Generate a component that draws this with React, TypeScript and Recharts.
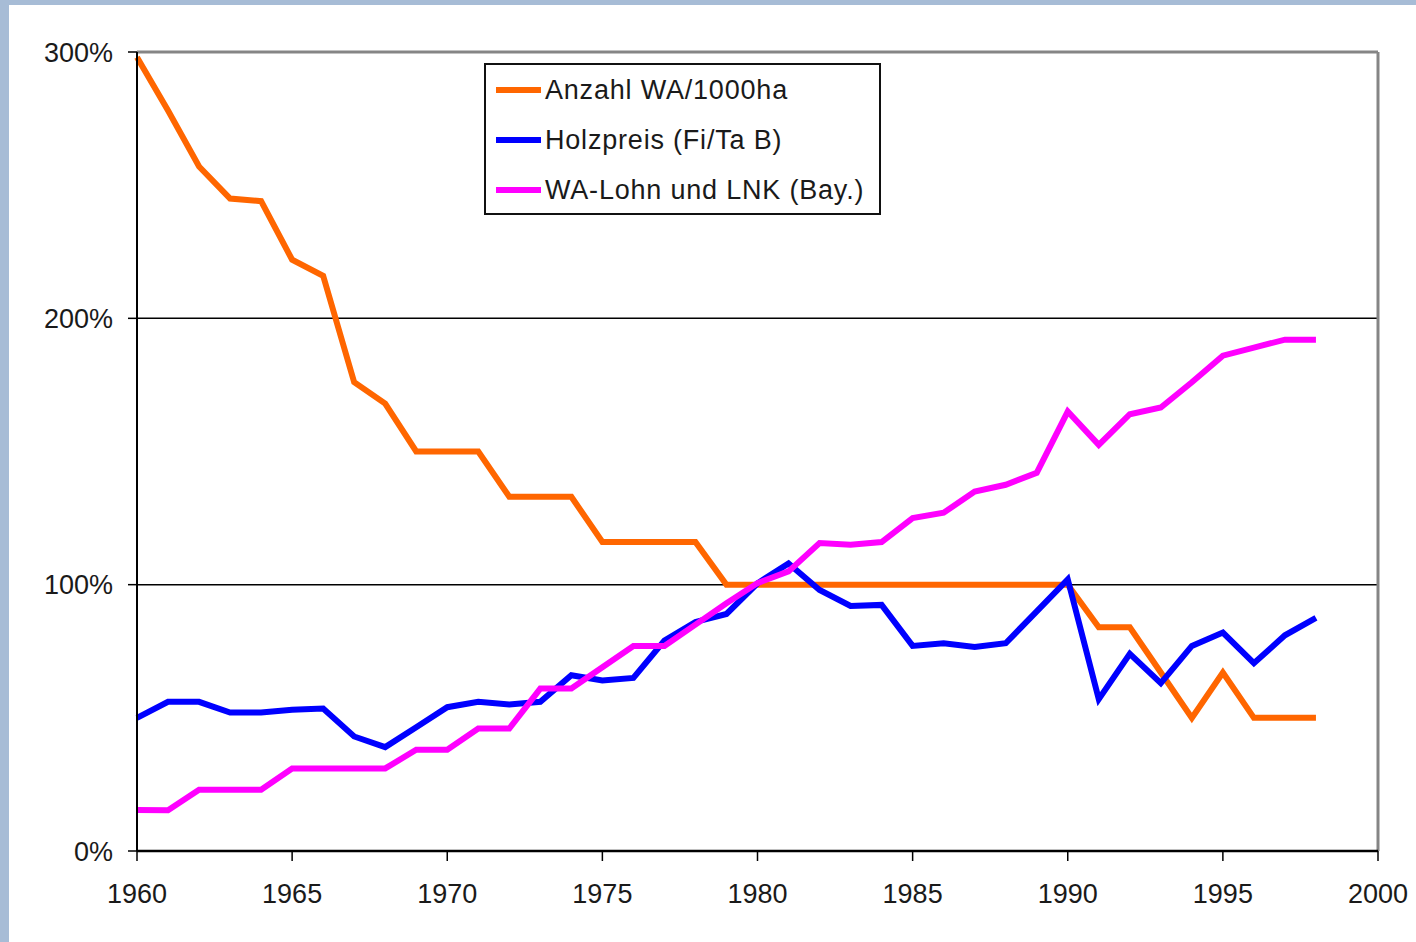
import {
  CartesianGrid,
  Legend,
  Line,
  LineChart,
  ReferenceLine,
  XAxis,
  YAxis,
} from 'recharts';

const YEARS = [
  1960, 1961, 1962, 1963, 1964, 1965, 1966, 1967, 1968, 1969,
  1970, 1971, 1972, 1973, 1974, 1975, 1976, 1977, 1978, 1979,
  1980, 1981, 1982, 1983, 1984, 1985, 1986, 1987, 1988, 1989,
  1990, 1991, 1992, 1993, 1994, 1995, 1996, 1997, 1998,
];

// Anzahl Waldarbeiter je 1000 ha (1980 = 100%)
const ANZAHL_WA = [
  298, 278, 257, 245, 244, 222, 216, 176, 168, 150,
  150, 150, 133, 133, 133, 116, 116, 116, 116, 100,
  100, 100, 100, 100, 100, 100, 100, 100, 100, 100,
  100, 84, 84, 67, 50, 67, 50, 50, 50,
];

const HOLZPREIS = [
  50, 56, 56, 52, 52, 53, 53.5, 43, 39, 46.5,
  54, 56, 55, 56, 66, 64, 65, 79, 86, 89,
  100.5, 108, 98, 92, 92.4, 77, 78, 76.6, 78, 90,
  102, 57, 74, 63, 77, 82, 70.5, 81, 87.5,
];

const WA_LOHN = [
  15.4, 15.3, 23, 23, 23, 31, 31, 31, 31, 38,
  38, 46, 46, 61, 61, 69, 77, 77, 85, 93,
  100.6, 105, 115.6, 115, 116, 125, 127, 135, 137.5, 142,
  165, 152.5, 164, 166.5, 176, 186, 189, 192, 192,
];

const X_TICKS = [1960, 1965, 1970, 1975, 1980, 1985, 1990, 1995, 2000];
const Y_TICKS = [0, 100, 200, 300];

const SERIES = [
  { key: 'anzahl', name: 'Anzahl WA/1000ha', color: '#ff6600', values: ANZAHL_WA },
  { key: 'holz', name: 'Holzpreis (Fi/Ta B)', color: '#0000ff', values: HOLZPREIS },
  { key: 'lohn', name: 'WA-Lohn und LNK (Bay.)', color: '#ff00ff', values: WA_LOHN },
];

const rows = YEARS.map((year, i) => {
  const row: Record<string, number> = { year };
  for (const s of SERIES) row[s.key] = s.values[i];
  return row;
});

const FONT = '"Liberation Sans", Arial, sans-serif';
const tickStyle = { fill: '#1a1a1a', fontSize: 27, fontFamily: FONT };

function LegendBox() {
  return (
    <div
      style={{
        border: '2px solid #111',
        boxSizing: 'border-box',
        width: 397,
        height: 152,
        background: '#fff',
        paddingTop: 0,
        fontFamily: FONT,
        fontSize: 27,
        letterSpacing: 0.8,
        color: '#1a1a1a',
      }}
    >
      {SERIES.map((s) => (
        <div key={s.key} style={{ display: 'flex', alignItems: 'center', height: 50 }}>
          <span
            style={{ display: 'inline-block', width: 45, height: 6, background: s.color, marginLeft: 10, marginRight: 4 }}
          />
          <span style={{ whiteSpace: 'nowrap' }}>{s.name}</span>
        </div>
      ))}
    </div>
  );
}

export default function App() {
  return (
    <div style={{ position: 'absolute', left: 0, top: 0, width: 1416, height: 942, background: '#a7bcd6' }}>
      <div style={{ position: 'absolute', left: 9, top: 5, right: 0, bottom: 0, background: '#fff' }} />
      <div style={{ position: 'absolute', left: 0, top: 0 }}>
        <LineChart
          width={1416}
          height={942}
          data={rows}
          margin={{ top: 52, right: 38, left: 77, bottom: 51 }}
        >
          <CartesianGrid vertical={false} stroke="#000" strokeWidth={1.5} />
          <XAxis
            dataKey="year"
            type="number"
            domain={[1960, 2000]}
            ticks={X_TICKS}
            height={40}
            tick={tickStyle}
            tickSize={10}
            tickMargin={23}
            axisLine={{ stroke: '#000', strokeWidth: 2.5 }}
            tickLine={{ stroke: '#000', strokeWidth: 1.5 }}
          />
          <YAxis
            type="number"
            domain={[0, 300]}
            ticks={Y_TICKS}
            width={60}
            tick={tickStyle}
            tickFormatter={(v: number) => `${v}%`}
            tickSize={9}
            tickMargin={15}
            axisLine={{ stroke: '#000', strokeWidth: 2 }}
            tickLine={{ stroke: '#000', strokeWidth: 1.5 }}
          />
          <ReferenceLine y={300} stroke="#858585" strokeWidth={3} />
          <ReferenceLine x={2000} stroke="#858585" strokeWidth={3} />
          {SERIES.map((s) => (
            <Line
              key={s.key}
              dataKey={s.key}
              name={s.name}
              type="linear"
              stroke={s.color}
              strokeWidth={6}
              dot={false}
              activeDot={false}
              isAnimationActive={false}
            />
          ))}
          <Legend
            layout="horizontal"
            verticalAlign="middle"
            align="center"
            wrapperStyle={{ left: 484, top: 63, width: 397, height: 152 }}
            content={() => <LegendBox />}
          />
        </LineChart>
      </div>
    </div>
  );
}
